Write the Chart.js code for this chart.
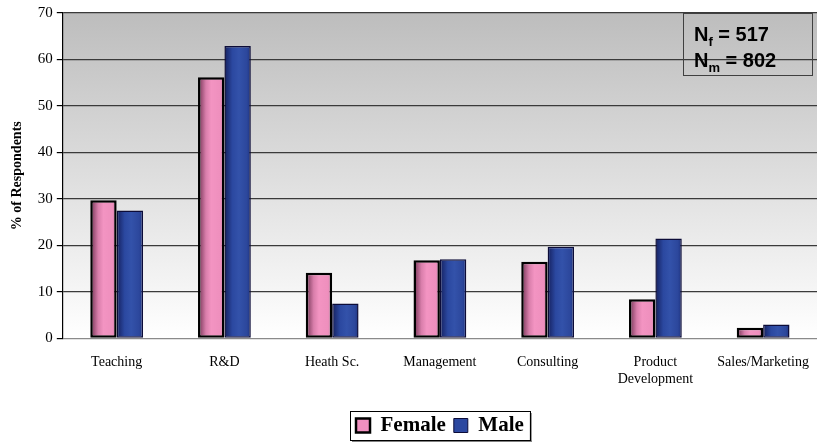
<!DOCTYPE html>
<html>
<head>
<meta charset="utf-8">
<script src="https://cdn.jsdelivr.net/npm/chart.js@4"></script>
<style>
  body { margin: 0; background: #fff; }
  #wrap { width: 817px; height: 443px; }
</style>
</head>
<body>
<div id="wrap"><canvas id="myChart"></canvas></div>
<script>
const categories = ["Teaching", "R&D", "Heath Sc.", "Management", "Consulting", ["Product", "Development"], "Sales/Marketing"];
const female = [29.7, 56.2, 14.1, 16.8, 16.5, 8.4, 2.3];
const male = [27.5, 62.9, 7.5, 17.0, 19.7, 21.5, 3.0];
const yTicks = [0, 10, 20, 30, 40, 50, 60, 70];
const nFemale = 517;
const nMale = 802;

const catPct = 0.49;

function barGradient(stops, fallback) {
  return (c) => {
    const chart = c.chart;
    const area = chart.chartArea;
    const xs = chart.scales.x;
    if (!area || !xs || c.dataIndex === undefined) return fallback;
    const center = xs.getPixelForValue(c.dataIndex);
    const w = ((area.right - area.left) / categories.length) * catPct / 2;
    const left = c.datasetIndex === 0 ? center - w : center;
    const g = chart.ctx.createLinearGradient(left, 0, left + w, 0);
    stops.forEach((s) => g.addColorStop(s[0], s[1]));
    return g;
  };
}

const bgPlugin = {
  id: "plotBg",
  beforeDraw: (chart) => {
    const { ctx, chartArea: a } = chart;
    ctx.save();
    const g = ctx.createLinearGradient(0, a.top, 0, a.bottom);
    g.addColorStop(0, "#bdbdbd");
    g.addColorStop(1, "#ffffff");
    ctx.fillStyle = g;
    ctx.fillRect(a.left, a.top, a.right - a.left, a.bottom - a.top);
    ctx.restore();
  },
  afterDraw: (chart) => {
    const { ctx, chartArea: a } = chart;
    ctx.save();
    // N box in upper right
    const bx = a.right - 134, by = a.top, bw = 129, bh = 62;
    ctx.strokeStyle = "#404040";
    ctx.lineWidth = 1;
    ctx.strokeRect(bx + 0.5, by + 0.5, bw, bh);
    ctx.fillStyle = "#000";
    ctx.textBaseline = "alphabetic";
    const rows = [["f", nFemale, by + 28], ["m", nMale, by + 54]];
    rows.forEach((r) => {
      let x = bx + 11;
      ctx.font = "bold 20px 'Liberation Sans'";
      ctx.fillText("N", x, r[2]);
      x += ctx.measureText("N").width;
      ctx.font = "bold 13px 'Liberation Sans'";
      ctx.fillText(r[0], x, r[2] + 5);
      x += ctx.measureText(r[0]).width;
      ctx.font = "bold 20px 'Liberation Sans'";
      ctx.fillText(" = " + r[1], x, r[2]);
    });
    // legend frame
    const boxes = chart.legend.legendHitBoxes;
    if (boxes && boxes.length) {
      const l = Math.min(...boxes.map((b) => b.left)) - 6;
      const r = Math.max(...boxes.map((b) => b.left + b.width)) + 6;
      const t = boxes[0].top - 4;
      const h = boxes[0].height + 8;
      ctx.fillStyle = "#808080";
      ctx.fillRect(l + 2, t + h, r - l, 2);
      ctx.fillRect(r, t + 2, 2, h);
      ctx.strokeStyle = "#000";
      ctx.lineWidth = 1;
      ctx.strokeRect(Math.round(l) + 0.5, Math.round(t) + 0.5, Math.round(r - l), Math.round(h));
    }
    ctx.restore();
  },
};

const ctx = document.getElementById("myChart").getContext("2d");
const myChart = new Chart(ctx, {
  type: "bar",
  data: {
    labels: categories,
    datasets: [
      {
        label: "Female",
        data: female,
        backgroundColor: barGradient(
          [[0, "#6e3050"], [0.3, "#d97eab"], [0.5, "#f394c2"], [0.85, "#ee8fbd"], [1, "#c0709a"]],
          "#f090c0"
        ),
        borderColor: "#000000",
        borderWidth: 2.5,
        borderSkipped: false,
      },
      {
        label: "Male",
        data: male,
        backgroundColor: barGradient(
          [[0, "#15205e"], [0.3, "#2b48a0"], [0.55, "#3352aa"], [0.85, "#2c479c"], [1, "#1e3380"]],
          "#2c48a0"
        ),
        borderColor: "#0c0c38",
        borderWidth: 1.5,
        borderSkipped: false,
      },
    ],
  },
  options: {
    responsive: true,
    maintainAspectRatio: false,
    animation: false,
    layout: { padding: { top: 12, right: 0, left: 9, bottom: -3 } },
    datasets: { bar: { categoryPercentage: catPct, barPercentage: 1 } },
    scales: {
      x: {
        afterFit: (axis) => {
          axis.height += 17;
        },
        grid: {
          display: true,
          drawOnChartArea: false,
          drawTicks: true,
          tickLength: 14,
          tickColor: "rgba(0,0,0,0)",
        },
        border: { display: false },
        ticks: {
          color: "#000",
          padding: 2,
          maxRotation: 0,
          autoSkip: false,
          font: { family: "'Liberation Serif'", size: 14 },
        },
      },
      y: {
        min: 0,
        max: 70,
        afterBuildTicks: (axis) => {
          axis.ticks = yTicks.map((v) => ({ value: v }));
        },
        grid: {
          color: (c) => (c.tick && c.tick.value === 0 ? "#8a8a8a" : "#3a3a3a"),
          lineWidth: 1.2,
          tickColor: "#000",
          tickLength: 6,
        },
        border: { display: true, color: "#000", width: 1.2 },
        ticks: {
          color: "#000",
          padding: 4,
          font: { family: "'Liberation Serif'", size: 15 },
        },
        title: {
          display: true,
          text: "% of Respondents",
          color: "#000",
          padding: { top: 0, bottom: 8 },
          font: { family: "'Liberation Serif'", size: 14, weight: "bold" },
        },
      },
    },
    plugins: {
      legend: {
        position: "bottom",
        fullSize: false,
        labels: {
          color: "#000",
          boxWidth: 14,
          boxHeight: 14,
          padding: 8,
          font: { family: "'Liberation Serif'", size: 21, weight: "bold" },
          generateLabels: (chart) =>
            chart.data.datasets.map((ds, i) => ({
              text: ds.label,
              fillStyle: i === 0 ? "#f090c0" : "#2c48a0",
              strokeStyle: i === 0 ? "#000" : "#0c0c38",
              lineWidth: i === 0 ? 2.5 : 1,
              datasetIndex: i,
            })),
        },
      },
      tooltip: { enabled: false },
    },
  },
  plugins: [bgPlugin],
});
</script>
</body>
</html>
